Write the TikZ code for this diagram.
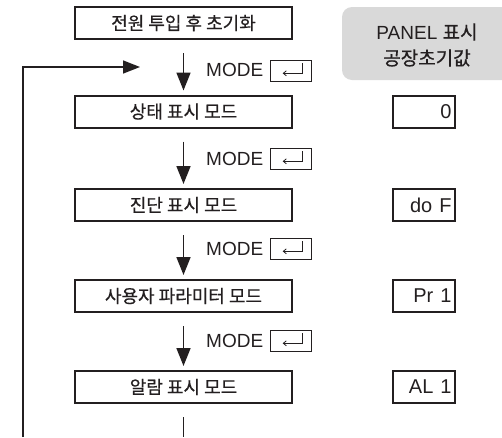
\documentclass[tikz,border=0pt]{standalone}
\usepackage{fontspec}
\setmainfont{Liberation Sans}
\newfontfamily\kr[FakeBold=0.6]{Noto Sans CJK KR}
\usetikzlibrary{arrows.meta,calc}
\definecolor{panelgray}{RGB}{217,217,217}
\definecolor{ink}{RGB}{35,31,32}
\begin{document}
\begin{tikzpicture}[x=1pt,y=-1pt,
  mbox/.style={draw=ink, line width=2pt, minimum width=217pt, minimum height=32pt, inner sep=0pt, font=\kr\fontsize{18}{20}\selectfont, text=ink},
  vbox/.style={draw=ink, line width=2pt, minimum width=62pt, minimum height=32pt, inner sep=0pt, text width=55pt, align=right, font=\fontsize{20}{22}\selectfont, text=ink},
  modelbl/.style={anchor=west, inner sep=0pt, font=\fontsize{19}{20}\selectfont, text=ink},
  keybox/.style={minimum width=41pt, minimum height=21pt, inner sep=0pt},
  flow/.style={draw=ink, line width=1.6pt, -{Triangle[length=18pt,width=14pt]}},
]
\useasboundingbox (0,0) rectangle (502,437);

% panel header
\fill[panelgray, rounded corners=10pt] (502,7) -- (342,7) -- (342,80) -- (502,80);
\node[align=center, inner sep=0pt, font=\fontsize{19}{26}\selectfont, text=ink] (ph) at (427,45)
  {PANEL {\kr 표시}\\{\kr 공장초기값}};

% main boxes
\node[mbox] (b1) at (183.5,23) {전원 투입 후 초기화};
\node[mbox] (b2) at (183.5,111.5) {상태 표시 모드};
\node[mbox] (b3) at (183.5,205) {진단 표시 모드};
\node[mbox] (b4) at (183.5,296) {사용자 파라미터 모드};
\node[mbox] (b5) at (183.5,387) {알람 표시 모드};

% value boxes
\node[vbox] (v2) at (424,111.5) {0};
\node[vbox] (v3) at (424,205) {do\hspace{7pt}F};
\node[vbox] (v4) at (424,296) {Pr\hspace{7pt}1};
\node[vbox] (v5) at (424,387) {AL\hspace{7pt}1};

% flow arrows
\draw[flow] ([yshift=-13pt]b1.south) -- ([yshift=4pt]b2.north);
\draw[flow] ([yshift=-13pt]b2.south) -- ([yshift=4pt]b3.north);
\draw[flow] ([yshift=-13pt]b3.south) -- ([yshift=4pt]b4.north);
\draw[flow] ([yshift=-13pt]b4.south) -- ([yshift=4pt]b5.north);

% MODE labels and enter keys
\newcommand{\enterkey}[2]{%
  \node[keybox] (#1) at #2 {};
  \draw[ink, line width=0.7pt] (#1.south west) -- (#1.north west) -- (#1.north east);
  \draw[ink, line width=1.4pt] (#1.north east) -- (#1.south east) -- (#1.south west);
  \draw[ink, line width=0.8pt, -{Straight Barb[length=3pt,width=5pt]}]
    ($(#1.north east)+(-9,3)$) -- ($(#1.north east)+(-9,13)$) -- ($(#1.north east)+(-29,13)$);
}
\node[modelbl] (m1) at (206,70) {MODE};
\enterkey{k1}{(291,71)}
\node[modelbl] (m2) at (206,159) {MODE};
\enterkey{k2}{(291,159)}
\node[modelbl] (m3) at (206,249) {MODE};
\enterkey{k3}{(291,249)}
\node[modelbl] (m4) at (206,341) {MODE};
\enterkey{k4}{(291,341)}

% loop back
\coordinate (lb) at (23,437);
\coordinate (lt) at (23,67);
\coordinate (la) at (140,67);
\draw[flow, -{Triangle[length=17pt,width=13pt]}] (lb) -- (lt) -- (la);

% continuation below last box
\coordinate (be) at (183.5,437);
\draw[ink, line width=1.6pt] ([yshift=-13pt]b5.south) -- (be);
\end{tikzpicture}
\end{document}
